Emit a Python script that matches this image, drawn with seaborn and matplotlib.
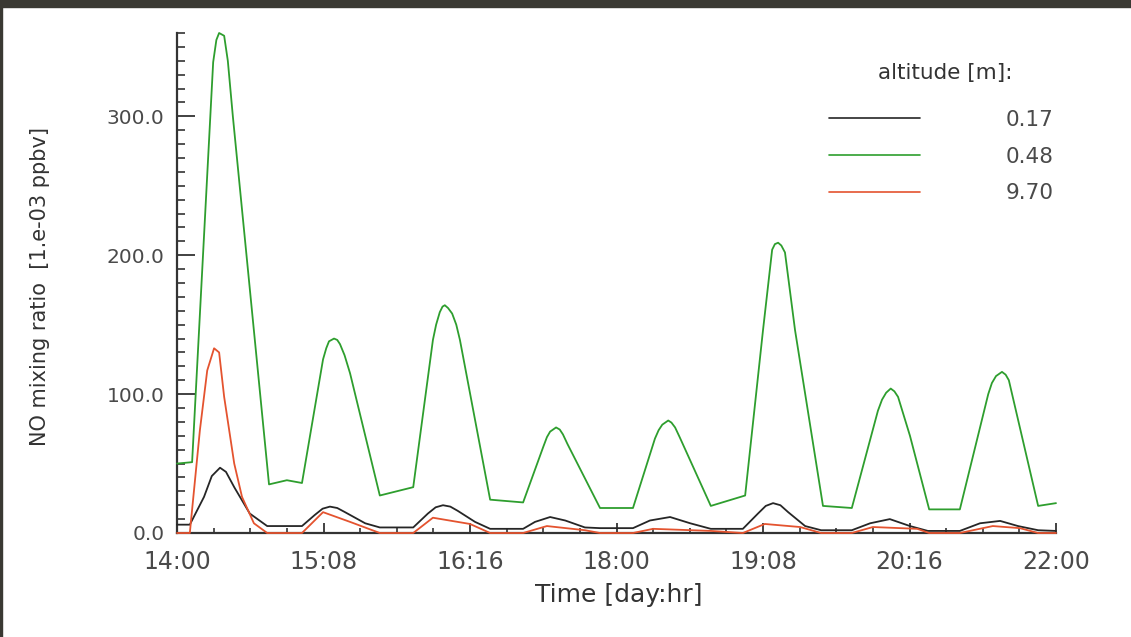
import pandas as pd
import matplotlib
matplotlib.use('Agg')
import matplotlib.pyplot as plt
import seaborn as sns
from matplotlib.ticker import MultipleLocator, FixedLocator, FormatStrFormatter
from matplotlib.patches import Rectangle

# time axis in hours since day 14, 00:00
hours_017 = [0.0, 2.8, 5.9, 7.6, 9.4, 10.7, 12.5, 15.9, 19.7, 27.3, 30.1, 31.8, 33.4, 35.0, 36.7, 41.1,
             44.3, 51.6, 54.8, 56.5, 58.1, 59.7, 61.3, 65.1, 68.4, 75.6, 78.2, 81.5, 84.8, 89.1, 92.4,
             99.6, 103.3, 107.7, 112.1, 116.6, 123.6, 126.9, 128.6, 130.2, 131.8, 133.5, 137.2, 140.7,
             147.4, 151.4, 155.7, 160.1, 164.0, 171.0, 175.4, 179.8, 183.7, 188.1, 192.0]
no_017 = [6, 6, 26, 41, 47, 44, 33, 14, 5, 5, 13, 17.5, 19, 18, 15, 7,
          4, 4, 14, 18.5, 20, 19, 16, 8, 3, 3, 8, 11.5, 9, 4, 3.5,
          3.5, 9, 11.5, 7, 3, 3, 14, 19.5, 21.5, 20, 15, 5, 2,
          2, 7, 10, 5, 1.5, 1.5, 7, 8.7, 5, 2, 1.5]

hours_048 = [0.0, 3.3, 7.9, 8.6, 9.2, 10.3, 11.1, 12.2, 20.1, 24.0, 27.3,
             31.9, 32.6, 33.2, 34.3, 35.0, 35.6, 36.6, 37.8, 44.3,
             51.6, 55.9, 56.6, 57.4, 58.0, 58.5, 59.2, 60.1, 61.0, 61.8, 68.4,
             75.6, 80.0, 80.8, 81.5, 82.8, 83.6, 84.3, 85.3, 92.4,
             99.6, 104.4, 105.2, 106.0, 107.3, 108.0, 108.8, 109.8, 116.6,
             124.1, 128.0, 130.0, 130.6, 131.3, 132.0, 132.8, 135.0, 141.1,
             147.4, 153.1, 154.0, 154.9, 155.9, 156.7, 157.5, 160.1, 164.3,
             171.0, 177.2, 178.0, 178.9, 180.2, 181.0, 181.7, 188.1, 192.0]
no_048 = [50, 51, 339, 355, 360, 358, 340, 300, 35, 38, 36,
          125, 133, 138, 140, 139, 136, 128, 115, 27,
          33, 139, 150, 159, 163, 164, 162, 158, 150, 139, 24,
          22, 62, 69, 73, 76, 74.5, 71, 64, 18,
          18, 68, 74, 78, 81, 79.5, 76, 69, 19.5,
          27, 146, 204, 208, 209, 207, 202, 146, 19.5,
          18, 88, 96, 101, 104, 102, 98, 70, 17,
          17, 100, 108, 113, 116, 114, 110, 19.5, 21.5]

hours_970 = [0.0, 2.8, 5.0, 6.6, 8.1, 9.2, 10.3, 12.5, 14.2, 16.8, 19.7, 27.3, 31.9, 37.8,
             44.3, 51.6, 55.9, 64.0, 68.4, 75.6, 80.8, 89.1, 92.4, 99.6, 104.0, 116.6, 123.6,
             128.4, 136.1, 140.7, 147.4, 152.0, 161.7, 164.3, 171.0, 178.2, 184.1, 188.1, 192.0]
no_970 = [0, 0, 74, 117, 133, 130, 98, 50, 26, 7, 0, 0, 15, 8,
          0, 0, 11, 6.5, 0, 0, 5, 2, 0, 0, 3, 1.5, 0,
          6.5, 4.3, 0, 0, 4.3, 3, 0, 0, 5, 3.5, 0, 0]

altitudes = ['0.17', '0.48', '9.70']
colors = ['#262626', '#2e9e2e', '#e4532f']
tick_hours = [0, 32, 64, 96, 128, 160, 192]
tick_labels = ['14:00', '15:08', '16:16', '18:00', '19:08', '20:16', '22:00']

sns.set_style('white')
plt.rcParams['font.family'] = ['DejaVu Sans']
text_col = '#4a4a4a'

fig = plt.figure(figsize=(11.31, 6.37), dpi=100)
ax = fig.add_axes([177 / 1131, 104 / 637, 879 / 1131, 500 / 637])

series = [(hours_017, no_017), (hours_048, no_048), (hours_970, no_970)]
for (h, v), alt, col in zip(series, altitudes, colors):
    df = pd.DataFrame({'hour': h, 'no': v})
    sns.lineplot(data=df, x='hour', y='no', ax=ax, color=col, lw=1.3, zorder=3,
                 label=alt, estimator=None, sort=False, clip_on=False)

ax.set_xlim(0, 192)
ax.set_ylim(0, 360)

# only left and bottom axes, IDL style
for s in ['top', 'right']:
    ax.spines[s].set_visible(False)
for s in ['left', 'bottom']:
    ax.spines[s].set_color('#333333')
    ax.spines[s].set_linewidth(1.6)

ax.xaxis.set_major_locator(FixedLocator(tick_hours))
ax.set_xticklabels(tick_labels)
ax.xaxis.set_minor_locator(MultipleLocator(8))
ax.yaxis.set_major_locator(MultipleLocator(100))
ax.yaxis.set_minor_locator(MultipleLocator(10))
ax.yaxis.set_major_formatter(FormatStrFormatter('%.1f'))

ax.tick_params(axis='x', which='major', direction='in', length=7, width=1.3,
               color='#333333', labelsize=17, labelcolor=text_col, pad=12, bottom=True)
ax.tick_params(axis='x', which='minor', direction='in', length=3.6, width=1.2,
               color='#333333', bottom=True)
ax.tick_params(axis='y', which='major', direction='in', length=13, width=1.3,
               color='#333333', labelsize=14.5, labelcolor=text_col, pad=9, left=True)
ax.tick_params(axis='y', which='minor', direction='in', length=6, width=1.2,
               color='#333333', left=True)

ax.set_xlabel('Time [day:hr]', fontsize=18, color='#333333')
ax.xaxis.set_label_coords(0.502, -0.1)
ax.xaxis.label.set_va('top')
ax.set_ylabel('NO mixing ratio  [1.e-03 ppbv]', fontsize=15, color='#333333')
ax.yaxis.set_label_coords(-0.1445, 0.494)

leg = ax.legend(frameon=False, loc='upper right',
                bbox_to_anchor=(1054 / 1131, 1 - 110 / 637), bbox_transform=fig.transFigure,
                fontsize=15.5, handlelength=4.2, handletextpad=4.0,
                labelspacing=0.77, borderpad=0, borderaxespad=0)
for t in leg.get_texts():
    t.set_color(text_col)
for line in leg.get_lines():
    line.set_linewidth(1.2)
fig.text(945 / 1131, 1 - 73 / 637, 'altitude [m]:', fontsize=15.5, color='#333333',
         ha='center', va='center')

# dark screenshot frame
fig.patches.append(Rectangle((0, 1 - 7 / 637), 1, 7 / 637, transform=fig.transFigure,
                             color='#3a3933', zorder=10))
fig.patches.append(Rectangle((0, 0), 2 / 1131, 1, transform=fig.transFigure,
                             color='#3a3933', zorder=10))

fig.savefig('out.png', dpi=100)
